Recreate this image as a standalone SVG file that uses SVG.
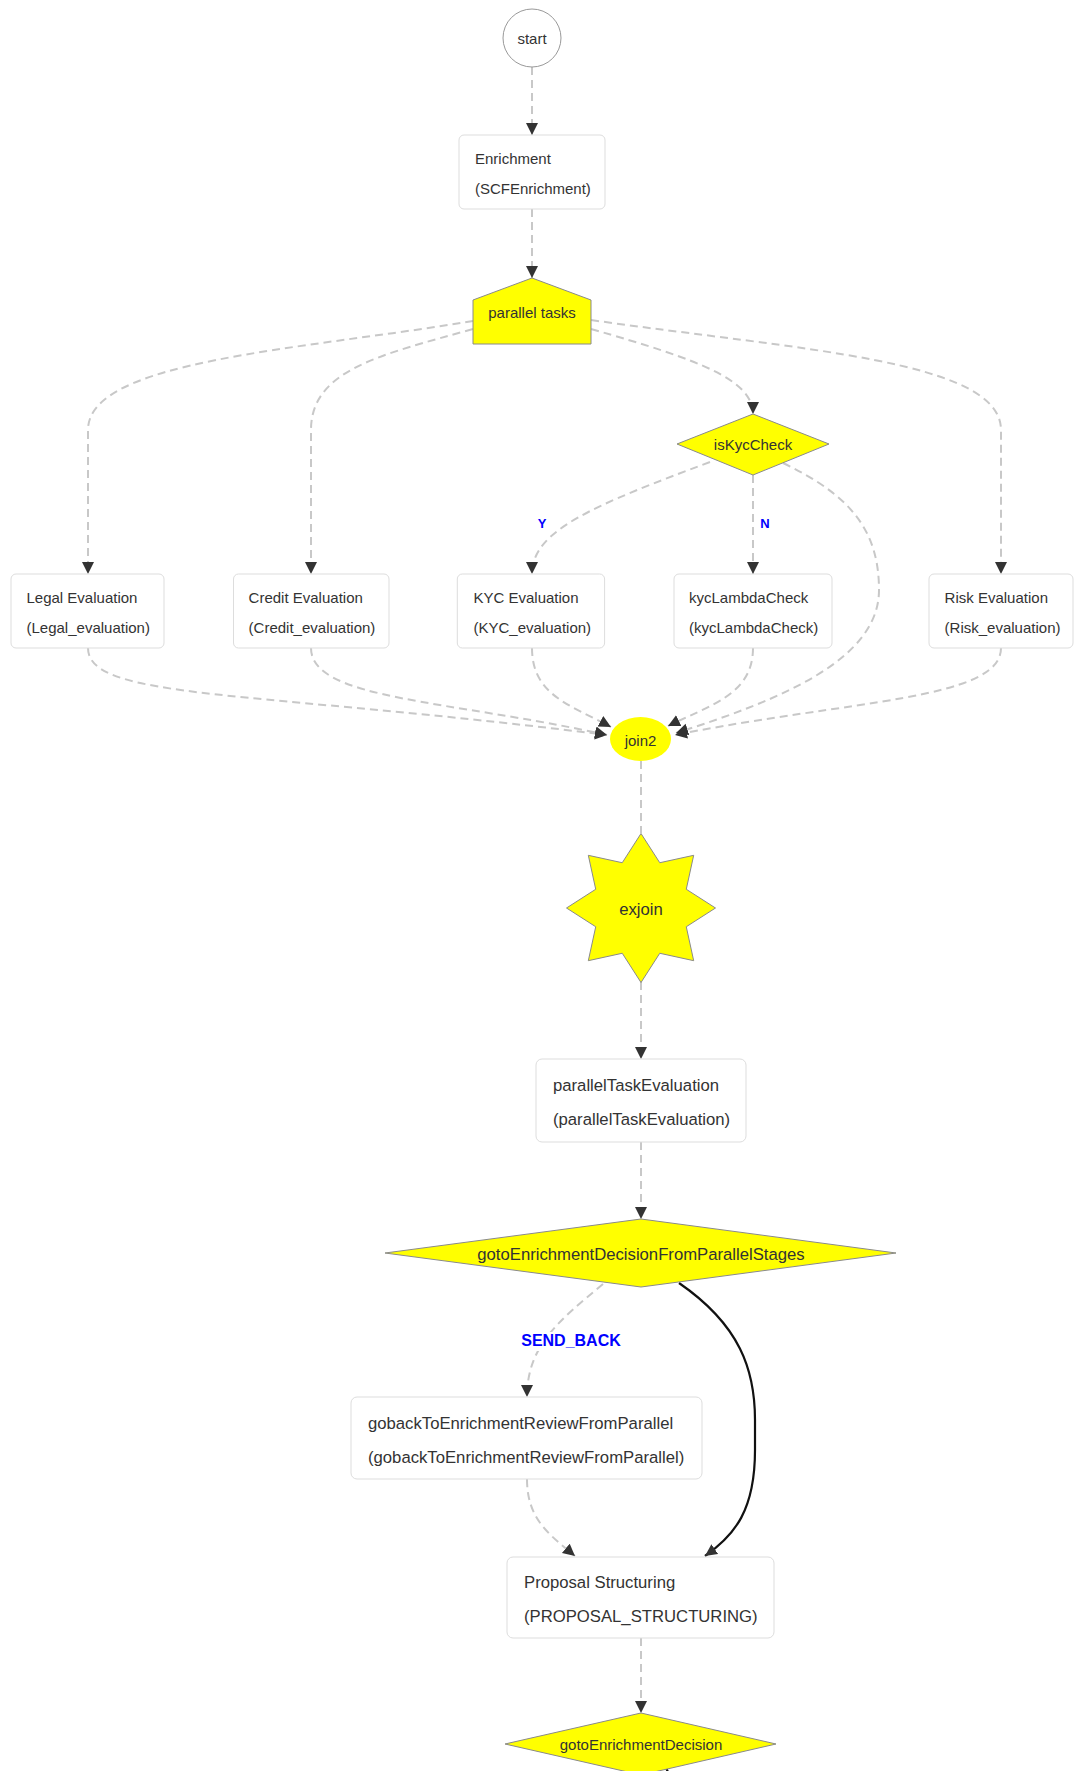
<svg xmlns="http://www.w3.org/2000/svg" width="1074" height="1771" viewBox="0 0 1074 1771">
<style>
text{font-family:"Liberation Sans",Arial,sans-serif;fill:#333}
.t15{font-size:15px}
.t17{font-size:16.7px}
.box{fill:#fff;stroke:#ddd;stroke-width:1}
.yel{fill:#ffff00;stroke:#8a8a8a;stroke-width:1}
.edge{fill:none;stroke:#c8c8c8;stroke-width:2;stroke-dasharray:8,5}
.solid{fill:none;stroke:#111;stroke-width:2.2}
.lbl{font-weight:bold;fill:#0000ff}
.mid{text-anchor:middle}
</style>
<defs>
<marker id="arr" markerUnits="userSpaceOnUse" markerWidth="13" markerHeight="13" refX="12" refY="6" orient="auto">
<path d="M0,0 L12,6 L0,12 z" fill="#333"/>
</marker>
</defs>
<g id="edges">
<path class="edge" d="M532,67 L532,135" marker-end="url(#arr)"/>
<path class="edge" d="M532,209 L532,278" marker-end="url(#arr)"/>
<path class="edge" d="M473,321 C300,350 88,360 88,430 L88,574" marker-end="url(#arr)"/>
<path class="edge" d="M473,329 C380,355 311,370 311,430 L311,574" marker-end="url(#arr)"/>
<path class="edge" d="M591,329 C700,360 753,380 753,414" marker-end="url(#arr)"/>
<path class="edge" d="M591,320 C800,350 1001,360 1001,430 L1001,574" marker-end="url(#arr)"/>
<path class="edge" d="M710,462 C595,505 532,530 532,574" marker-end="url(#arr)"/>
<path class="edge" d="M753,475 L753,574" marker-end="url(#arr)"/>
<path class="edge" d="M783,463 C850,495 879,530 879,590 C879,660 780,700 676,733" marker-end="url(#arr)"/>
<path class="edge" d="M88,648 C88,700 250,690 607,735" marker-end="url(#arr)"/>
<path class="edge" d="M311,648 C311,700 450,700 607,735" marker-end="url(#arr)"/>
<path class="edge" d="M532,648 C532,695 570,705 611,727" marker-end="url(#arr)"/>
<path class="edge" d="M753,648 C753,695 710,705 668,726" marker-end="url(#arr)"/>
<path class="edge" d="M1001,648 C1001,700 850,700 675,735" marker-end="url(#arr)"/>
<path class="edge" d="M641,761 L641,833"/>
<path class="edge" d="M641,982 L641,1059" marker-end="url(#arr)"/>
<path class="edge" d="M641,1142 L641,1219" marker-end="url(#arr)"/>
<path class="edge" d="M603,1284 C560,1320 527,1345 527,1397" marker-end="url(#arr)"/>
<path class="solid" d="M679,1283 C740,1325 755,1370 755,1420 L755,1450 C755,1510 735,1535 705,1556" marker-end="url(#arr)"/>
<path class="edge" d="M527,1479 C527,1520 550,1535 575,1556" marker-end="url(#arr)"/>
<path class="edge" d="M641,1638 L641,1713" marker-end="url(#arr)"/>
<path class="solid" d="M666,1768 L668,1772"/>
<text class="lbl mid" x="542" y="528" font-size="13">Y</text>
<text class="lbl mid" x="765" y="528" font-size="13">N</text>
<rect x="520" y="1332" width="102" height="19" fill="#fff"/>
<text class="lbl mid" x="571" y="1346" font-size="16">SEND_BACK</text>
</g>
<g id="start"><circle cx="532" cy="38" r="29" fill="#fff" stroke="#999" stroke-width="1"/><text class="t15 mid" x="532" y="44">start</text></g>
<g id="enrichment"><rect class="box" x="459" y="135" width="146" height="74" rx="5"/><text class="t15" x="475" y="164">Enrichment</text><text class="t15" x="475" y="194">(SCFEnrichment)</text></g>
<g id="parallel-tasks"><polygon class="yel" points="532,278 591,300 591,344 473,344 473,300"/><text class="t15 mid" x="532" y="318">parallel tasks</text></g>
<g id="legal"><rect class="box" x="11" y="574" width="153" height="74" rx="5"/><text class="t15" x="26.5" y="603">Legal Evaluation</text><text class="t15" x="26.5" y="633">(Legal_evaluation)</text></g>
<g id="credit"><rect class="box" x="233.5" y="574" width="155.5" height="74" rx="5"/><text class="t15" x="248.6" y="603">Credit Evaluation</text><text class="t15" x="248.6" y="633">(Credit_evaluation)</text></g>
<g id="kyc"><rect class="box" x="457.3" y="574" width="147.3" height="74" rx="5"/><text class="t15" x="473.5" y="603">KYC Evaluation</text><text class="t15" x="473.5" y="633">(KYC_evaluation)</text></g>
<g id="kycLambdaCheck"><rect class="box" x="674" y="574" width="158" height="74" rx="5"/><text class="t15" x="689" y="603">kycLambdaCheck</text><text class="t15" x="689" y="633">(kycLambdaCheck)</text></g>
<g id="risk"><rect class="box" x="929" y="574" width="144" height="74" rx="5"/><text class="t15" x="944.6" y="603">Risk Evaluation</text><text class="t15" x="944.6" y="633">(Risk_evaluation)</text></g>
<g id="isKycCheck"><polygon class="yel" points="753,414 829,444 753,475 677,444"/><text class="t15 mid" x="753" y="450">isKycCheck</text></g>
<g id="join2"><ellipse cx="640.5" cy="739" rx="30.5" ry="22" fill="#ffff00"/><text class="t15 mid" x="640.5" y="746">join2</text></g>
<g id="exjoin"><polygon class="yel" points="641,833.5 659.75,862.73 693.68,855.32 686.27,889.25 715.5,908 686.27,926.75 693.68,960.68 659.75,953.27 641,982.5 622.25,953.27 588.32,960.68 595.73,926.75 566.5,908 595.73,889.25 588.32,855.32 622.25,862.73"/><text class="t17 mid" x="641" y="915">exjoin</text></g>
<g id="parallelTaskEvaluation"><rect class="box" x="536" y="1059" width="210" height="83" rx="6"/><text class="t17" x="553" y="1091">parallelTaskEvaluation</text><text class="t17" x="553" y="1125">(parallelTaskEvaluation)</text></g>
<g id="gotoEnrichmentDecisionFromParallelStages"><polygon class="yel" points="641,1219 896,1253 641,1287 385,1253"/><text class="t17 mid" x="641" y="1260">gotoEnrichmentDecisionFromParallelStages</text></g>
<g id="gobackToEnrichmentReviewFromParallel"><rect class="box" x="351" y="1397" width="351" height="82" rx="6"/><text class="t17" x="368" y="1429">gobackToEnrichmentReviewFromParallel</text><text class="t17" x="368" y="1463">(gobackToEnrichmentReviewFromParallel)</text></g>
<g id="proposal"><rect class="box" x="507" y="1557" width="267" height="81" rx="6"/><text class="t17" x="524" y="1588">Proposal Structuring</text><text class="t17" x="524" y="1622">(PROPOSAL_STRUCTURING)</text></g>
<g id="gotoEnrichmentDecision"><polygon class="yel" points="641,1713 776,1744 641,1775 505,1744"/><text class="t15 mid" x="641" y="1750">gotoEnrichmentDecision</text></g>
</svg>
